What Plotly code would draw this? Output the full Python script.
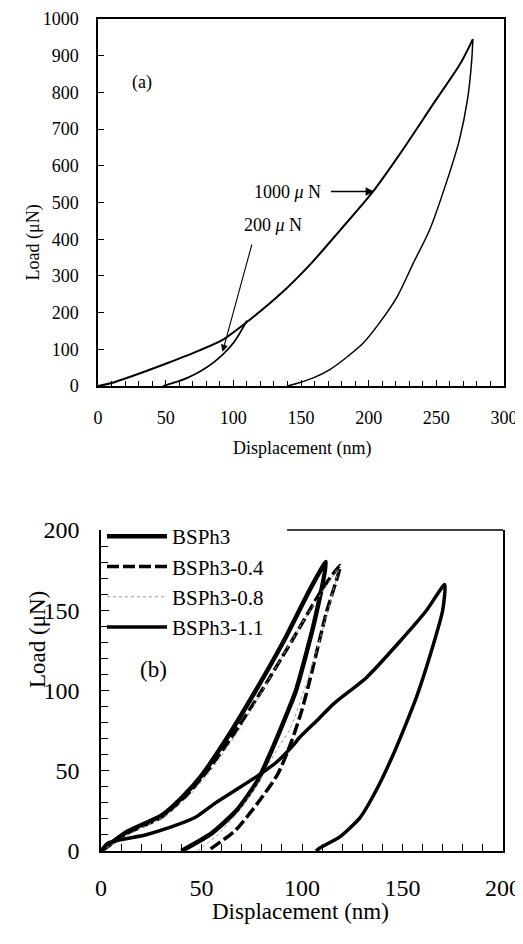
import plotly.graph_objects as go

FONT = "Liberation Serif"
W, H = 523, 944
OFF = 8                      # default page margin around the figure
FW, FH = W - OFF, H - OFF


def px(x):
    return (x - OFF) / FW


def py(y):
    return 1 - (y - OFF) / FH


# ---------------- (a) data ----------------
a_load1000_x = [0, 10, 26, 51, 75, 93, 112, 137, 157, 179, 203, 223, 248, 268, 277]
a_load1000_y = [0, 8, 28, 62, 97, 128, 180, 258, 332, 425, 529, 632, 770, 880, 945]
a_unload1000_x = [277, 276, 273, 267, 258, 245, 233, 221, 208, 196, 184, 171, 159, 148, 140]
a_unload1000_y = [945, 880, 780, 670, 561, 425, 335, 243, 172, 117, 79, 44, 22, 8, 0]
a_unload200_x = [110, 100, 85, 66, 48]
a_unload200_y = [178, 117, 63, 22, 0]

a_xticks = [0, 50, 100, 150, 200, 250, 300]
a_yticks = [0, 100, 200, 300, 400, 500, 600, 700, 800, 900, 1000]

# ---------------- (b) data ----------------
series_names = ["BSPh3", "BSPh3-0.4", "BSPh3-0.8", "BSPh3-1.1"]
bsph3_x = [0, 13, 30, 40, 50, 63, 77, 91, 104, 112, 106, 97, 92, 85, 78, 68, 55, 40]
bsph3_y = [0, 12, 22, 33, 47, 71, 100, 131, 163, 180, 142, 100, 84, 63, 44, 26, 11, 0]
bsph3_04_x = [0, 13, 30, 42, 53, 65, 80, 95, 110, 119, 112, 104, 100, 95, 88, 78, 67, 53]
bsph3_04_y = [0, 11, 21, 34, 50, 71, 100, 131, 163, 178, 148, 107, 88, 69, 48, 30, 13, 0]
bsph3_08_x = [0, 15, 32, 45, 57, 70, 85, 100, 112, 118, 114, 108, 101, 94, 87, 78, 68, 58, 48]
bsph3_08_y = [0, 11, 22, 36, 54, 78, 110, 142, 165, 176, 155, 128, 100, 76, 62, 42, 24, 10, 0]
bsph3_11_x = [0, 3.5, 22, 35, 47, 57, 67, 77, 87, 95, 99, 108, 116, 132, 149, 162, 171,
              170, 164, 157, 152, 145, 137, 129, 119, 109, 107]
bsph3_11_y = [0, 5, 10, 15, 21, 30, 38, 46, 55, 65, 71, 82, 92, 108, 131, 150, 166,
              150, 123, 96, 80, 59, 38, 21, 9, 2, 0]

b_xticks = [0, 50, 100, 150, 200]
b_yticks = [0, 50, 100, 150, 200]

fig = go.Figure()

# (a) traces
fig.add_trace(go.Scatter(x=a_load1000_x, y=a_load1000_y, mode="lines",
                         line=dict(color="black", width=2, shape="spline", smoothing=0.8),
                         showlegend=False, xaxis="x", yaxis="y"))
fig.add_trace(go.Scatter(x=a_unload1000_x, y=a_unload1000_y, mode="lines",
                         line=dict(color="black", width=1.5, shape="spline", smoothing=0.8),
                         showlegend=False, xaxis="x", yaxis="y"))
fig.add_trace(go.Scatter(x=a_unload200_x, y=a_unload200_y, mode="lines",
                         line=dict(color="black", width=1.8, shape="spline", smoothing=0.8),
                         showlegend=False, xaxis="x", yaxis="y"))

# (b) traces
b_styles = [
    dict(color="black", width=4.5, shape="spline", smoothing=0.6),
    dict(color="black", width=3.5, dash="12px,4px", shape="spline", smoothing=0.6),
    dict(color="#9a9a9a", width=1, dash="dot", shape="spline", smoothing=0.6),
    dict(color="black", width=3.5, shape="spline", smoothing=0.6),
]
b_data = [(bsph3_x, bsph3_y), (bsph3_04_x, bsph3_04_y),
          (bsph3_08_x, bsph3_08_y), (bsph3_11_x, bsph3_11_y)]
for name, (xs, ys), st in zip(series_names, b_data, b_styles):
    fig.add_trace(go.Scatter(x=xs, y=ys, mode="lines", name=name, line=st,
                             xaxis="x2", yaxis="y2"))

axis_common = dict(showline=True, linecolor="black", linewidth=1.5, showgrid=False,
                   zeroline=False, ticks="inside", tickcolor="black", tickwidth=1.2,
                   color="black", automargin=False)

fig.update_layout(
    width=FW, height=FH,
    margin=dict(l=0, r=0, t=0, b=0, autoexpand=False),
    paper_bgcolor="white", plot_bgcolor="white",
    font=dict(family=FONT, color="black"),
    xaxis=dict(domain=[px(98), px(504)], range=[0, 300], anchor="y",
               tickvals=a_xticks, ticklen=6, mirror=True,
               minor=dict(dtick=10, tick0=0, ticks="inside", ticklen=5, tickcolor="black"),
               tickfont=dict(size=18), ticklabelstandoff=15, **axis_common),
    yaxis=dict(domain=[py(386), py(19)], range=[0, 1000], anchor="x",
               tickvals=a_yticks, ticklen=6, mirror=True,
               tickfont=dict(size=18), ticklabelstandoff=14, **axis_common),
    xaxis2=dict(domain=[px(101), px(503)], range=[0, 200], anchor="y2",
                tickvals=b_xticks, ticklen=7, mirror=False,
                minor=dict(dtick=10, tick0=0, ticks="inside", ticklen=7, tickcolor="black"),
                tickfont=dict(size=24), ticklabelstandoff=14, **axis_common),
    yaxis2=dict(domain=[py(851), py(530)], range=[0, 200], anchor="x2",
                tickvals=b_yticks, ticklen=8, mirror=True,
                minor=dict(dtick=10, tick0=0, ticks="inside", ticklen=7, tickcolor="black"),
                tickfont=dict(size=24), ticklabelstandoff=15, **axis_common),
    legend=dict(x=px(102), y=py(516), xanchor="left", yanchor="top",
                bgcolor="rgba(0,0,0,0)", font=dict(size=21, family=FONT),
                tracegroupgap=0, itemwidth=60),
    showlegend=True,
)

# partial top border of (b) (the left part is taken by the legend)
fig.add_shape(type="line", xref="x2 domain", yref="y2 domain",
              x0=0.463, x1=1, y0=1, y1=1, line=dict(color="black", width=1.5))

ann = []
# axis titles
ann.append(dict(text="Displacement (nm)", x=px(302), y=py(448), xref="paper", yref="paper",
                showarrow=False, font=dict(size=18)))
ann.append(dict(text="Load (μN)", x=px(20), y=py(203), xref="paper", yref="paper",
                showarrow=False, textangle=-90, font=dict(size=18)))
ann.append(dict(text="Displacement (nm)", x=px(300), y=py(926), xref="paper", yref="paper",
                showarrow=False, font=dict(size=23)))
ann.append(dict(text="Load (μN)", x=px(23), y=py(690), xref="paper", yref="paper",
                showarrow=False, textangle=-90, font=dict(size=23)))
# panel labels
ann.append(dict(text="(a)", x=32.5, y=828, xref="x", yref="y", showarrow=False,
                font=dict(size=18)))
ann.append(dict(text="(b)", x=26, y=113, xref="x2", yref="y2", showarrow=False,
                font=dict(size=23)))
# load labels with arrows
ann.append(dict(text="1000 <i>μ</i> N", x=166, y=529, xref="x", yref="y", xanchor="right",
                showarrow=False, font=dict(size=18)))
ann.append(dict(text="", x=204, y=530, ax=171, ay=530, xref="x", yref="y",
                axref="x", ayref="y", showarrow=True, arrowhead=2, arrowsize=1.3,
                arrowwidth=1.3, arrowcolor="black"))
ann.append(dict(text="200 <i>μ</i> N", x=129, y=439, xref="x", yref="y",
                showarrow=False, font=dict(size=18)))
ann.append(dict(text="", x=92, y=93, ax=114, ay=390, xref="x", yref="y",
                axref="x", ayref="y", showarrow=True, arrowhead=2, arrowsize=1.3,
                arrowwidth=1.1, arrowcolor="black"))
fig.update_layout(annotations=ann)

fig.write_html("out.html")
